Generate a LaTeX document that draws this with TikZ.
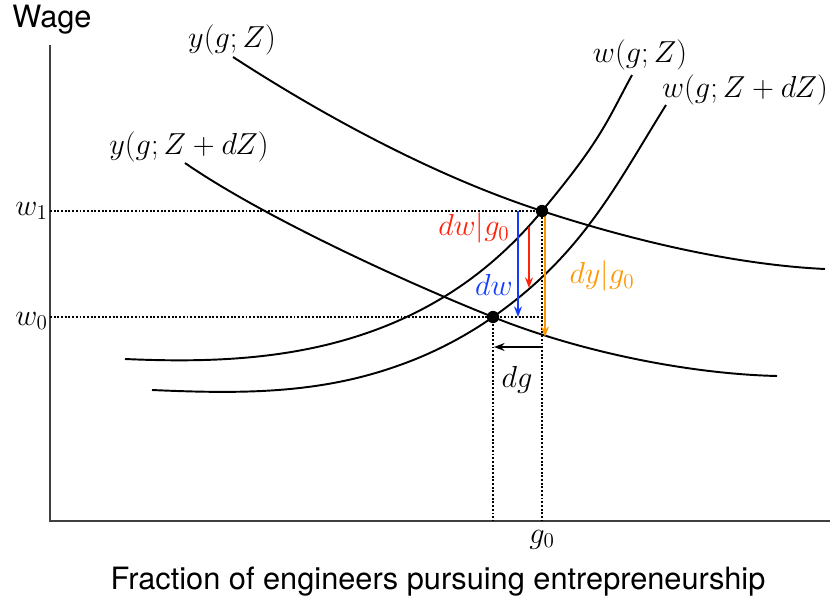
\documentclass[tikz,border=0pt]{standalone}
\usepackage{amsmath}
\usepackage{fontspec}
\setsansfont{TeX Gyre Heros}
\usetikzlibrary{arrows.meta,calc,positioning}
\definecolor{dwblue}{RGB}{20,60,255}
\definecolor{dwred}{RGB}{255,35,10}
\definecolor{dyorange}{RGB}{255,150,0}

\begin{document}
\begin{tikzpicture}[
    x=0.02cm, y=-0.02cm,
    curve/.style={line width=1.1pt},
    guide/.style={densely dotted, line width=1.1pt},
    shiftarrow/.style={-{Stealth[length=6pt,width=4.5pt]}, line width=1pt},
    lbl/.style={font=\fontsize{18}{22}\selectfont, inner sep=1pt},
    sanslbl/.style={font=\sffamily\fontsize{17.5}{21}\selectfont, inner sep=1pt},
    >=Stealth,
]
\useasboundingbox (0,0) rectangle (832,605);

% Axes
\draw[line width=0.8pt, black!75] (50,45) -- (50,521) -- (830,521);
\node[sanslbl] (wage) at (52,20) {Wage};
\node[sanslbl] (frac) at (438,582) {Fraction of engineers pursuing entrepreneurship};

% Equilibrium points
\coordinate (A) at (542,211);
\coordinate (B) at (493,317);

% Curves y(g;Z) and y(g;Z+dZ)
\draw[curve] (233,57) .. controls (330,120) and (440,178) .. (A)
  .. controls (640,243) and (740,265) .. (825,269);
\draw[curve] (185,163) .. controls (260,215) and (400,280) .. (B)
  .. controls (580,352) and (690,374) .. (777,376);

% Curves w(g;Z) and w(g;Z+dZ)
\draw[curve] (125,359) .. controls (215,363) and (310,360) .. (400,320)
  .. controls (450,297.5) and (497,265) .. (A)
  .. controls (602,139) and (607,121) .. (632,75);
\draw[curve] (152,390) .. controls (242,394) and (320,394) .. (400,365)
  .. controls (431,354) and (463,338) .. (B)
  .. controls (583,254) and (616,185) .. (666,105);

\node[lbl] (yZ) at (232,40) {$y(g;Z)$};
\node[lbl] (yZdZ) at (189,147) {$y(g;Z+dZ)$};
\node[lbl] (wZ) at (640,55) {$w(g;Z)$};
\node[lbl] (wZdZ) at (745,90) {$w(g;Z+dZ)$};

% Dotted guides
\coordinate (w1ax) at (50,211);
\coordinate (w0ax) at (50,317);
\coordinate (g0ax) at (542,521);
\coordinate (gBax) at (493,521);
\draw[guide] (w1ax) -- (A) -- (g0ax);
\draw[guide] (w0ax) -- (543,317);
\draw[guide] (B) -- (gBax);

\node[lbl, anchor=east] (w1) at (w1ax) {$w_1$};
\node[lbl, anchor=east] (w0) at ($(w0ax)+(0,4)$) {$w_0$};
\node[lbl, below=4pt of g0ax] (g0) {$g_0$};

% Shift arrows
\coordinate (dwtop) at (518,211);
\coordinate (dwbot) at (518,317);
\coordinate (redtop) at (529,227);
\coordinate (redbot) at (529,288);
\coordinate (dytop) at (545,211);
\coordinate (dybot) at (545,337);
\coordinate (dgright) at (542,347);
\coordinate (dgleft) at (494,347);
\draw[shiftarrow, dwblue] (dwtop) -- (dwbot);
\draw[shiftarrow, dwred] (redtop) -- (redbot);
\draw[shiftarrow, dyorange] (dytop) -- (dybot);
\draw[shiftarrow] (dgright) -- (dgleft);

\node[lbl, dwred] (dwg) at (474,228) {$dw|g_0$};
\node[lbl, dwblue] (dw) at (494,285) {$dw$};
\node[lbl, dyorange] (dyg) at (602,276) {$dy|g_0$};
\node[lbl] (dg) at (517,380) {$dg$};

\fill (A) circle[radius=3.5pt];
\fill (B) circle[radius=3.5pt];
\end{tikzpicture}
\end{document}
